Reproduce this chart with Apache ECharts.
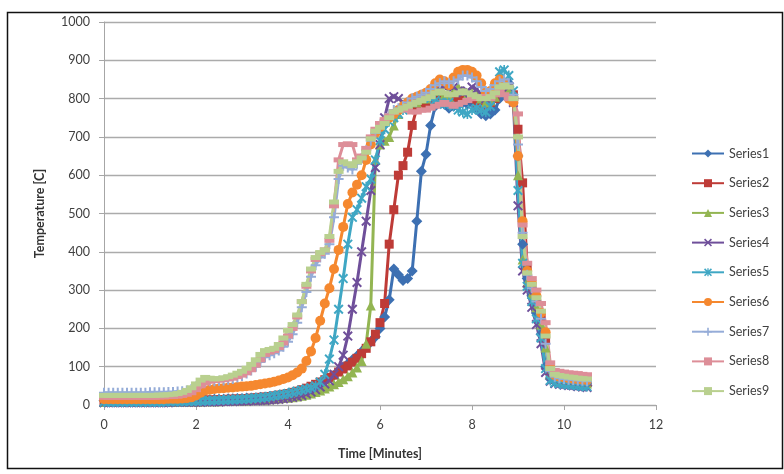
<!DOCTYPE html>
<html>
<head>
<meta charset="utf-8">
<script src="https://cdn.jsdelivr.net/npm/echarts@6/dist/echarts.min.js"></script>
<style>
html,body{margin:0;padding:0;background:#fff;}
#chart{width:784px;height:474px;}
</style>
</head>
<body>
<div id="chart"></div>
<script>
const minutes = [0,0.1,0.2,0.3,0.4,0.5,0.6,0.7,0.8,0.9,
1,1.1,1.2,1.3,1.4,1.5,1.6,1.7,1.8,1.9,
2,2.1,2.2,2.3,2.4,2.5,2.6,2.7,2.8,2.9,
3,3.1,3.2,3.3,3.4,3.5,3.6,3.7,3.8,3.9,
4,4.1,4.2,4.3,4.4,4.5,4.6,4.7,4.8,4.9,
5,5.1,5.2,5.3,5.4,5.5,5.6,5.7,5.8,5.9,
6,6.1,6.2,6.3,6.4,6.5,6.6,6.7,6.8,6.9,
7,7.1,7.2,7.3,7.4,7.5,7.6,7.7,7.8,7.9,
8,8.1,8.2,8.3,8.4,8.5,8.6,8.7,8.8,8.9,
9,9.1,9.2,9.3,9.4,9.5,9.6,9.7,9.8,9.9,
10,10.1,10.2,10.3,10.4,10.5];

const series1 = [12,12,12,12,12,12,12,12,12,12,
12,12,12,12,13,13,13,13,13,13,
14,14,14,14,15,15,15,16,16,17,
17,18,18,19,20,21,22,23,25,27,
29,31,34,37,41,45,50,55,62,70,
78,88,98,108,118,128,140,152,165,178,
200,230,275,355,340,325,330,350,480,610,
655,730,780,790,785,775,780,785,790,785,
790,775,760,755,760,770,800,830,840,800,
650,420,330,285,240,185,100,68,62,60,
58,56,55,53,52,50];

const series2 = [10,10,10,10,10,10,10,10,10,10,
10,10,10,11,11,11,11,11,11,12,
12,12,13,13,13,14,14,15,15,16,
16,17,18,19,20,21,22,24,26,28,
30,33,36,40,44,49,54,60,66,72,
78,86,94,102,112,122,134,148,165,185,
215,265,420,510,600,625,660,730,775,790,
780,790,800,810,800,790,795,800,805,800,
800,790,780,785,790,800,820,830,825,810,
720,580,360,310,275,230,170,90,72,68,
66,64,63,62,60,59];

const series3 = [8,8,8,8,8,8,8,8,8,8,
8,8,8,8,8,8,9,9,9,9,
9,9,10,10,10,10,11,11,11,12,
12,12,13,13,14,14,15,16,17,18,
19,20,22,24,27,30,34,38,43,48,
54,60,67,75,85,98,115,160,260,640,
680,690,700,730,760,780,790,800,790,800,
800,810,820,820,810,805,820,830,820,810,
815,810,800,790,795,805,820,830,825,800,
600,380,320,290,255,210,150,80,68,65,
63,61,60,58,57,56];

const series4 = [6,6,6,6,6,6,6,6,6,6,
6,6,6,6,6,7,7,7,7,7,
7,7,8,8,8,8,9,9,9,10,
10,10,11,11,12,12,13,14,15,16,
18,20,22,25,29,34,40,47,55,63,
80,100,130,180,250,320,400,480,560,620,
680,750,800,805,800,790,780,790,800,805,
810,815,820,825,830,835,830,820,815,820,
830,825,810,800,805,815,830,840,830,790,
520,350,300,255,210,160,85,62,56,54,
52,51,50,48,47,46];

const series5 = [8,8,8,8,8,8,8,8,8,8,
8,8,8,8,9,9,9,9,10,10,
10,11,11,12,12,13,13,14,14,15,
15,16,17,18,19,20,22,24,26,28,
30,33,36,39,42,45,50,60,80,120,
170,250,330,420,490,510,540,570,590,640,
690,720,740,750,760,770,780,790,800,805,
810,800,795,790,785,790,780,770,765,760,
770,775,770,765,780,830,870,875,860,820,
560,370,310,270,225,175,95,64,58,56,
54,53,52,50,49,48];

const series6 = [15,15,15,15,15,15,15,15,15,15,
15,15,15,15,16,16,16,17,18,20,
25,32,38,40,42,43,44,45,46,47,
48,49,50,52,54,56,58,61,64,68,
72,78,85,95,115,140,175,220,265,305,
355,405,465,525,555,575,600,640,680,710,
725,740,750,760,770,780,790,800,805,810,
815,825,840,850,845,835,855,870,875,875,
870,860,840,815,820,840,850,840,800,790,
650,480,350,320,285,240,190,100,78,74,
72,70,68,67,66,65];

const series7 = [32,32,32,32,32,32,32,32,32,32,
33,33,33,33,34,34,35,36,38,42,
48,55,60,62,62,63,64,66,68,72,
76,82,90,100,112,125,130,135,142,152,
165,185,215,255,295,335,365,385,395,420,
490,590,625,620,615,630,645,665,690,710,
725,745,760,770,775,780,790,800,805,810,
815,825,835,840,845,840,845,850,860,860,
855,845,830,820,825,835,845,850,840,810,
680,450,340,305,270,225,160,88,74,70,
68,66,65,64,63,62];

const series8 = [20,20,20,20,20,20,20,20,20,20,
20,20,21,21,22,22,23,25,28,32,
40,50,58,62,64,65,66,68,70,74,
78,84,92,104,118,132,138,142,150,162,
180,200,230,270,310,350,380,395,405,430,
520,640,680,682,680,640,650,670,700,720,
735,745,755,765,770,775,770,765,765,770,
770,775,780,785,790,785,780,785,790,795,
800,800,805,805,800,810,820,810,800,800,
760,470,370,330,300,265,215,110,90,88,
86,84,83,82,80,79];

const series9 = [25,25,25,25,25,25,25,25,25,25,
25,25,26,26,27,28,30,33,38,45,
55,65,72,70,68,69,71,74,78,83,
88,96,106,118,132,142,145,148,158,175,
195,210,235,270,315,355,385,398,405,440,
530,610,635,630,625,635,645,660,695,715,
725,735,750,765,770,775,780,785,790,795,
800,805,815,820,815,810,810,815,820,815,
810,805,800,800,805,815,830,835,830,800,
700,440,345,315,280,245,180,95,80,77,
75,73,72,70,69,68];

const seriesNames = ['Series1','Series2','Series3','Series4','Series5','Series6','Series7','Series8','Series9'];
const seriesValues = [series1,series2,series3,series4,series5,series6,series7,series8,series9];
const xTicks = [0,2,4,6,8,10,12];

const colors = ['#3d70b2','#be3b37','#93b552','#6f4f9a','#3fa7c4','#f5882f','#95acd8','#dd8e98','#b9d08f'];
const symX = 'path://M0,1.4L1.4,0L10,8.6L8.6,10Z M8.6,0L10,1.4L1.4,10L0,8.6Z';
const symStar = 'path://M0,1.4L1.4,0L10,8.6L8.6,10Z M8.6,0L10,1.4L1.4,10L0,8.6Z M4.2,0H5.8V10H4.2Z';
const symPlus = 'path://M4,0H6V10H4Z M0,4H10V6H0Z';
const symDash = 'path://M0,3H10V7H0Z';
const symbols = ['diamond','rect','triangle',symX,symStar,'circle',symPlus,symDash,symDash];
const symSizes = [11,9,10,10,10,10,10,[10,5],[10,5]];

const font = 'Lato, "Liberation Sans", sans-serif';
const chart = echarts.init(document.getElementById('chart'), null, {renderer:'canvas'});

chart.setOption({
  animation:false,
  backgroundColor:'#fff',
  textStyle:{fontFamily:font},
  graphic:[{
    type:'rect',
    shape:{x:7.5,y:12.5,width:775,height:456},
    style:{fill:'none',stroke:'#111',lineWidth:1.5},
    z:-1
  }],
  grid:{left:104,right:128,top:22,bottom:69},
  legend:{
    orient:'vertical',
    left:686,
    top:142,
    itemWidth:32,
    itemHeight:10,
    itemGap:16.7,
    textStyle:{fontFamily:font,fontSize:12.5,color:'#404040'},
    data:seriesNames
  },
  xAxis:{
    type:'value',
    min:0,max:12,interval:2,
    name:'Time [Minutes]',
    nameLocation:'middle',
    nameGap:42,
    nameTextStyle:{fontFamily:font,fontSize:12.5,fontWeight:'bold',color:'#333'},
    axisLine:{show:true,lineStyle:{color:'#a6a6a6',width:1}},
    axisTick:{show:true,length:5,lineStyle:{color:'#a6a6a6'}},
    axisLabel:{margin:13,fontFamily:font,fontSize:12.5,color:'#404040',
      formatter:function(v){return xTicks.indexOf(v)>=0?String(v):'';}},
    splitLine:{show:false}
  },
  yAxis:{
    type:'value',
    min:0,max:1000,interval:100,
    name:'Temperature [C]',
    nameLocation:'middle',
    nameGap:58,
    nameTextStyle:{fontFamily:font,fontSize:12.5,fontWeight:'bold',color:'#333'},
    axisLine:{show:true,lineStyle:{color:'#a6a6a6',width:1}},
    axisTick:{show:true,length:5,lineStyle:{color:'#a6a6a6'}},
    axisLabel:{margin:14,fontFamily:font,fontSize:12.5,color:'#404040',
      formatter:function(v){return String(v);}},
    splitLine:{show:true,lineStyle:{color:'#ababab',width:1.3}}
  },
  series:seriesValues.map(function(vals,i){
    return {
      name:seriesNames[i],
      type:'line',
      data:minutes.map(function(t,j){return [t,vals[j]];}),
      symbol:symbols[i],
      symbolSize:symSizes[i],
      showSymbol:true,
      lineStyle:{color:colors[i],width:3},
      itemStyle:{color:colors[i],borderColor:colors[i],borderWidth:0},
      emphasis:{disabled:true}
    };
  })
});
</script>
</body>
</html>
